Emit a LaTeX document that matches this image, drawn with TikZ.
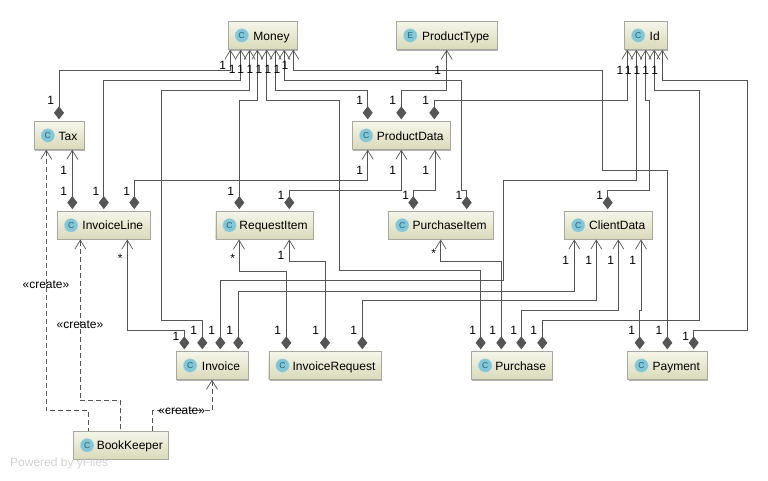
\documentclass[tikz,border=0pt]{standalone}
\usepackage{fontspec}
\setmainfont{Liberation Sans}
\usetikzlibrary{arrows.meta,shadows}

\begin{document}
\begin{tikzpicture}[
    x=1pt, y=-1pt,
    every node/.style={font=\fontsize{12}{14}\selectfont},
    classbox/.style={
        draw=boxedge,
        top color=boxtop,
        bottom color=boxbottom,
        minimum height=28pt,
        minimum width=#1,
        inner xsep=1pt,
        inner ysep=0pt,
        text height=11pt,
        text depth=2pt,
        drop shadow={shadow xshift=1pt, shadow yshift=-1pt, fill=black, opacity=0.3},
        execute at begin node={\hspace*{18pt}}
    },
    icon/.style={
        circle,
        fill=iconblue,
        draw=iconblue!70,
        minimum size=13.5pt,
        inner sep=0pt,
        text=icontext,
        font=\fontsize{8.5}{9}\selectfont
    },
    assoc/.style={
        draw=linegray,
        line width=0.8pt,
        {Straight Barb[length=9pt,width=11pt,line width=0.7pt]}-{Diamond[length=13pt,width=10pt]},
        shorten >=2pt
    },
    creates/.style={
        draw=linegray,
        line width=0.7pt,
        dash pattern=on 5pt off 3pt,
        {Straight Barb[length=9pt,width=11pt,line width=0.7pt]}-
    },
    mult/.style={inner sep=0pt},
    stereo/.style={inner sep=0pt}
]
\definecolor{boxedge}{HTML}{A8A8A0}
\definecolor{boxtop}{HTML}{F5F5EA}
\definecolor{boxbottom}{HTML}{DADABA}
\definecolor{iconblue}{HTML}{84C6D6}
\definecolor{icontext}{HTML}{1F6478}
\definecolor{linegray}{HTML}{555555}
\useasboundingbox (0,0) rectangle (768,480);

% row 1
\node[classbox=69pt] (Money) at (262.5,35.5) {Money};
\node[classbox=100.5pt] (ProductType) at (446.7,35.5) {ProductType};
\node[classbox=42.7pt] (Id) at (645.7,35.5) {Id};

% row 2
\node[classbox=50pt] (Tax) at (59,135.5) {Tax};
\node[classbox=98pt] (ProductData) at (401.3,135.5) {ProductData};

% row 3
\node[classbox=93pt] (InvoiceLine) at (103.8,225.3) {InvoiceLine};
\node[classbox=97.6pt] (RequestItem) at (264.5,225.3) {RequestItem};
\node[classbox=104.7pt] (PurchaseItem) at (440.7,225.3) {PurchaseItem};
\node[classbox=87.7pt] (ClientData) at (608.2,225.3) {ClientData};

% row 4
\node[classbox=71.4pt] (Invoice) at (212,365.5) {Invoice};
\node[classbox=112.6pt] (InvoiceRequest) at (325,365.5) {InvoiceRequest};
\node[classbox=80.7pt] (Purchase) at (511.7,365.5) {Purchase};
\node[classbox=79.3pt] (Payment) at (667.3,365.5) {Payment};

% row 5
\node[classbox=95pt] (BookKeeper) at (120.8,445.3) {BookKeeper};

% icons
\foreach \cls in {Money,Id,Tax,ProductData,InvoiceLine,RequestItem,PurchaseItem,ClientData,Invoice,InvoiceRequest,Purchase,Payment,BookKeeper}
    \node[icon] (\cls Icon) at ([xshift=14pt]\cls.west) {C};
\node[icon] (ProductTypeIcon) at ([xshift=14pt]ProductType.west) {E};

% Money -> owners
\draw[assoc] ([xshift=-32.2pt]Money.south) -- ++(0,21) -| (Tax.north);
\node[mult] (m1a) at (222.7,65) {1}; \node[mult] (m1b) at (50.7,100.7) {1};
\draw[assoc] ([xshift=-21.8pt]Money.south) -- ++(0,31) -| (InvoiceLine.north);
\node[mult] (m2a) at (232.3,69.5) {1}; \node[mult] (m2b) at (96,191) {1};
\draw[assoc] ([xshift=-12.8pt]Money.south) -- ++(0,41) -- ++(-88,0) -- ++(0,230) -| ([xshift=-9.7pt]Invoice.north);
\node[mult] (m3a) at (240.7,69.5) {1}; \node[mult] (m3b) at (193.7,330.7) {1};
\draw[assoc] ([xshift=-5.2pt]Money.south) -- ++(0,51) -| ([xshift=-25.2pt]RequestItem.north);
\node[mult] (m4a) at (250,69.5) {1}; \node[mult] (m4b) at (230.7,191) {1};
\draw[assoc] ([xshift=4.2pt]Money.south) -- ++(0,51) -- ++(72.6,0) -- ++(0,170) -| ([xshift=-31pt]Purchase.north);
\node[mult] (m5a) at (259,69.5) {1}; \node[mult] (m5b) at (472.7,330.7) {1};
\draw[assoc] ([xshift=13.2pt]Money.south) -- ++(0,41) -| ([xshift=-33.6pt]ProductData.north);
\node[mult] (m6a) at (268,69.5) {1}; \node[mult] (m6b) at (359.7,100.7) {1};
\draw[assoc] ([xshift=21.8pt]Money.south) -- ++(0,31) -- ++(177,0) -- ++(0,110) -| ([xshift=26pt]PurchaseItem.north);
\node[mult] (m7a) at (277,69.5) {1}; \node[mult] (m7b) at (459,195.7) {1};
\draw[assoc] ([xshift=30.8pt]Money.south) -- ++(0,21) -- ++(309.4,0) -- ++(0,100) -| (Payment.north);
\node[mult] (m8a) at (285,65) {1}; \node[mult] (m8b) at (659,330.7) {1};

% ProductType -> ProductData
\draw[assoc] (ProductType.south) -- ++(0,41) -| (ProductData.north);
\node[mult] (t1a) at (437.7,70) {1}; \node[mult] (t1b) at (392.7,100.7) {1};

% Id -> owners
\draw[assoc] ([xshift=-18.4pt]Id.south) -- ++(0,51) -| ([xshift=33pt]ProductData.north);
\node[mult] (i1a) at (620,70) {1}; \node[mult] (i1b) at (425.7,100.7) {1};
\draw[assoc] ([xshift=-9.4pt]Id.south) -- ++(0,131) -- ++(-133,0) -- ++(0,100) -| ([xshift=8.3pt]Invoice.north);
\node[mult] (i2a) at (628.3,70) {1}; \node[mult] (i2b) at (211.7,330.7) {1};
\draw[assoc] (Id.south) -- ++(0,51) -- ++(4,0) -- ++(0,90) -| ([xshift=-0.5pt]ClientData.north);
\node[mult] (i3a) at (637,70) {1}; \node[mult] (i3b) at (599.7,195.7) {1};
\draw[assoc] ([xshift=8.6pt]Id.south) -- ++(0,41) -- ++(45,0) -- ++(0,230) -| ([xshift=30.6pt]Purchase.north);
\node[mult] (i4a) at (645.7,70) {1}; \node[mult] (i4b) at (533.7,330.7) {1};
\draw[assoc] ([xshift=16.6pt]Id.south) -- ++(0,31) -- ++(85,0) -- ++(0,250) -| ([xshift=26.4pt]Payment.north);
\node[mult] (i5a) at (654.7,70) {1}; \node[mult] (i5b) at (685.7,336) {1};

% Tax, ProductData -> row 3
\draw[assoc] ([xshift=13.3pt]Tax.south) -- ([xshift=-31.5pt]InvoiceLine.north);
\node[mult] (x1a) at (63.7,170) {1}; \node[mult] (x1b) at (63.7,191) {1};
\draw[assoc] ([xshift=-33.6pt]ProductData.south) -- ++(0,31) -| ([xshift=30.5pt]InvoiceLine.north);
\node[mult] (d1a) at (359.7,170) {1}; \node[mult] (d1b) at (126.7,191) {1};
\draw[assoc] (ProductData.south) -- ++(0,41) -| ([xshift=24.8pt]RequestItem.north);
\node[mult] (d2a) at (392.7,170) {1}; \node[mult] (d2b) at (281,195.7) {1};
\draw[assoc] ([xshift=33.7pt]ProductData.south) -- ++(0,41) -| ([xshift=-27.4pt]PurchaseItem.north);
\node[mult] (d3a) at (425.7,170) {1}; \node[mult] (d3b) at (405.7,195.7) {1};

% row 3 -> row 4
\draw[assoc] ([xshift=23.5pt]InvoiceLine.south) -- ++(0,91) -| ([xshift=-27.7pt]Invoice.north);
\node[mult] (l1a) at (120.3,258.5) {*}; \node[mult] (l1b) at (176,336) {1};
\draw[assoc] ([xshift=-25.5pt]RequestItem.south) -- ++(0,31.5) -| ([xshift=-38.7pt]InvoiceRequest.north);
\node[mult] (r1a) at (232.7,258.5) {*}; \node[mult] (r1b) at (277.7,330.7) {1};
\draw[assoc] ([xshift=24.8pt]RequestItem.south) -- ++(0,21.5) -| (InvoiceRequest.north);
\node[mult] (r2a) at (281,255) {1}; \node[mult] (r2b) at (315.7,330.7) {1};
\draw[assoc] (PurchaseItem.south) -- ++(0,21.5) -| ([xshift=-10.4pt]Purchase.north);
\node[mult] (p1a) at (433.7,253.5) {*}; \node[mult] (p1b) at (492.7,330.7) {1};

% ClientData -> owners
\draw[assoc] ([xshift=-33.9pt]ClientData.south) -- ++(0,51.5) -| ([xshift=26.3pt]Invoice.north);
\node[mult] (c1a) at (565.7,260) {1}; \node[mult] (c1b) at (229.7,330.7) {1};
\draw[assoc] ([xshift=-11.9pt]ClientData.south) -- ++(0,61) -| ([xshift=37.3pt]InvoiceRequest.north);
\node[mult] (c2a) at (588.7,260) {1}; \node[mult] (c2b) at (353.7,330.7) {1};
\draw[assoc] ([xshift=10.1pt]ClientData.south) -- ++(0,71) -| ([xshift=9.6pt]Purchase.north);
\node[mult] (c3a) at (610.7,260) {1}; \node[mult] (c3b) at (513.7,330.7) {1};
\draw[assoc] ([xshift=32.8pt]ClientData.south) -- ++(0,71) -| ([xshift=-27.6pt]Payment.north);
\node[mult] (c4a) at (632.7,260) {1}; \node[mult] (c4b) at (631.7,330.7) {1};

% BookKeeper dependencies
\draw[creates] ([xshift=-12.7pt]Tax.south) -- ++(0,261) -| ([xshift=-32.1pt]BookKeeper.north);
\node[stereo] (s1) at (46,285) {«create»};
\draw[creates] ([xshift=-23.5pt]InvoiceLine.south) -- ++(0,161) -| (BookKeeper.north);
\node[stereo] (s2) at (80,325) {«create»};
\draw[creates] (Invoice.south) -- ++(0,31) -| ([xshift=32pt]BookKeeper.north);
\node[stereo] (s3) at (181.7,411) {«create»};

% watermark
\node[anchor=west, inner sep=0pt, text=black!18] (yfiles) at (10,463) {Powered by yFiles};
\end{tikzpicture}
\end{document}
